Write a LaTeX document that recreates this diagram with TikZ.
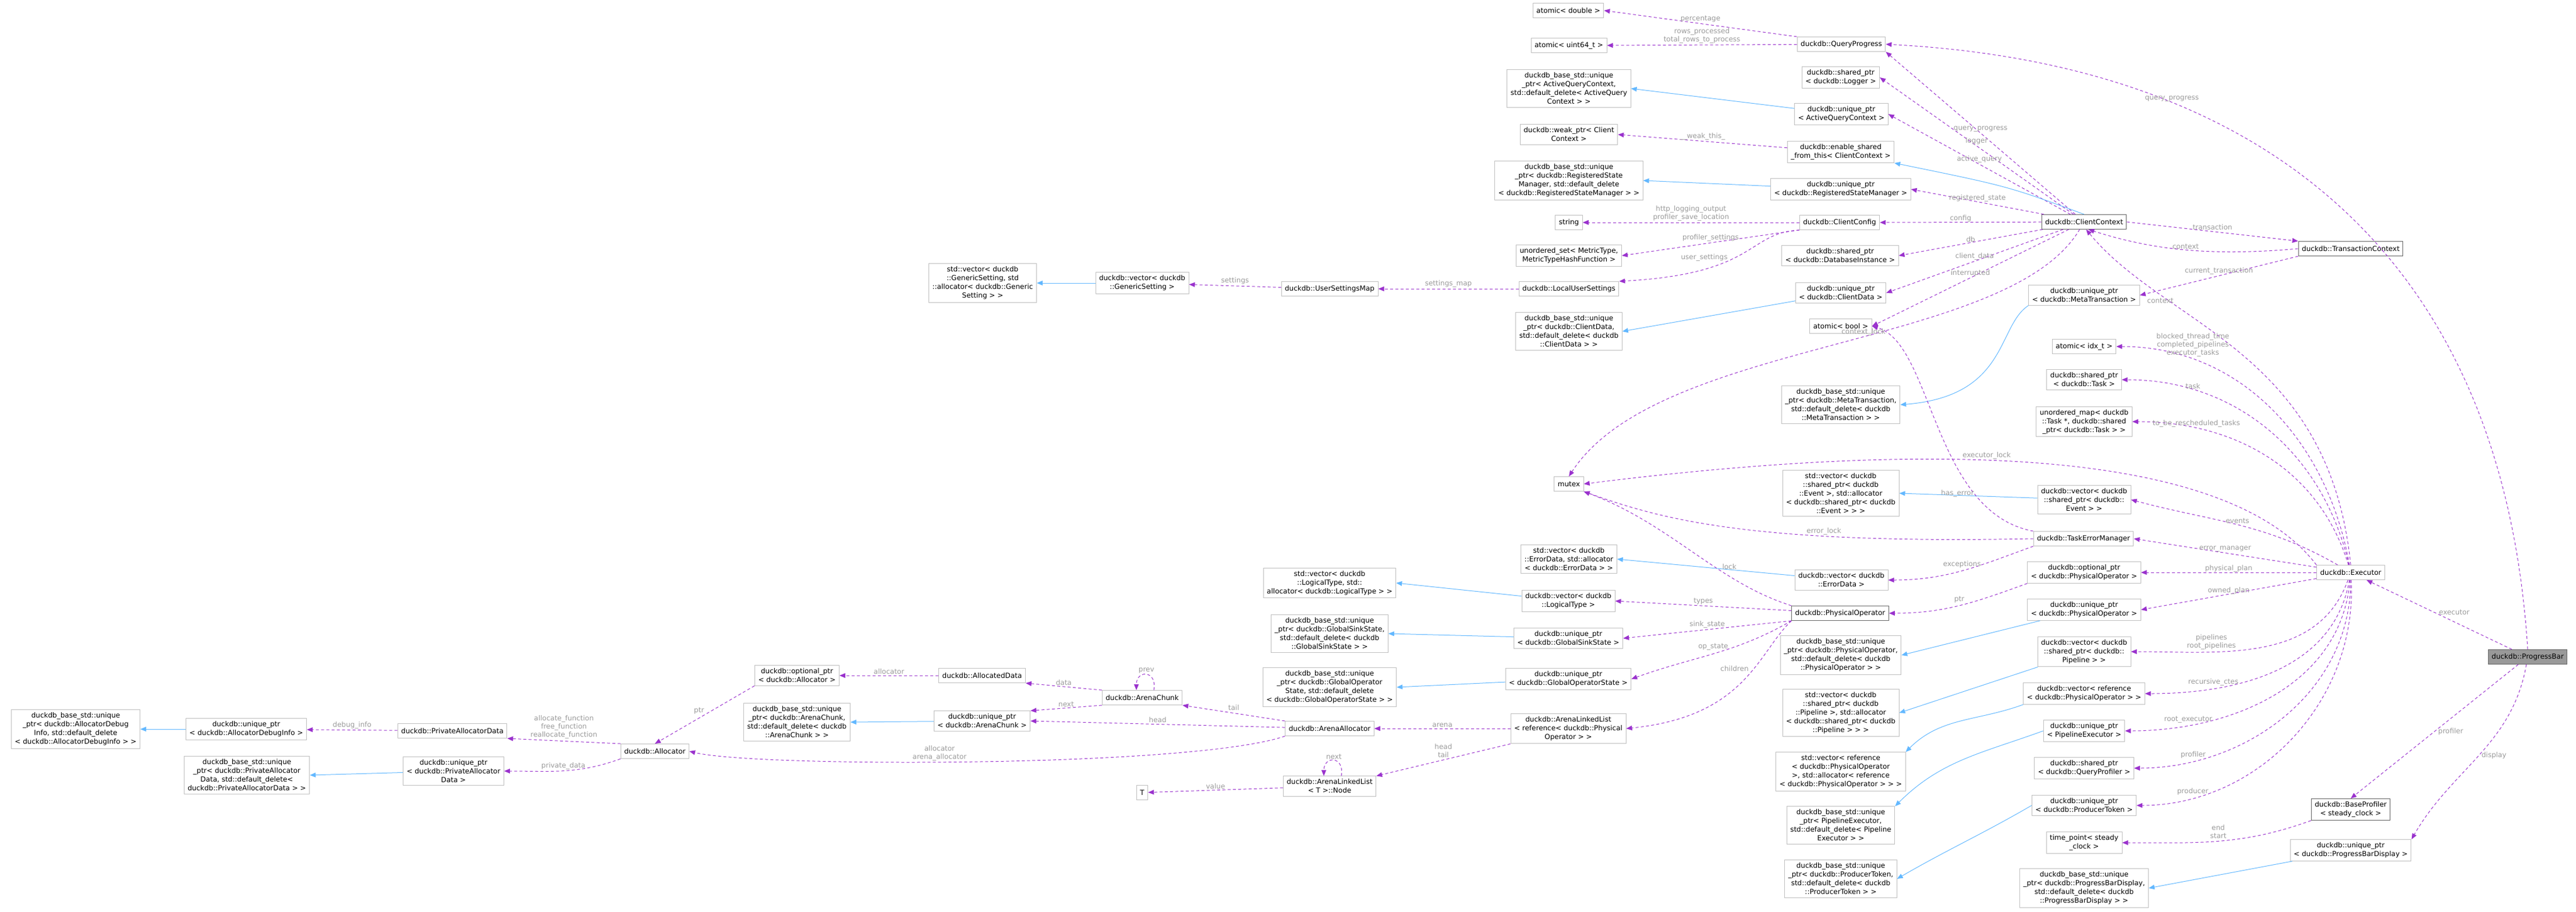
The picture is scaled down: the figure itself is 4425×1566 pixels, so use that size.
\documentclass[tikz,border=0pt]{standalone}
\usepackage{fontspec}
\setmainfont{DejaVu Sans}
\usepackage{tikz}
\usetikzlibrary{positioning,arrows.meta}
\definecolor{memline}{HTML}{9A32CD}
\definecolor{inhline}{HTML}{63B8FF}
\definecolor{boxline}{HTML}{BFBFBF}
\definecolor{darkline}{HTML}{666666}
\definecolor{lblgray}{HTML}{9A9A9A}

\begin{document}
\begin{tikzpicture}[x=1pt,y=-1pt,
    box/.style={rectangle,draw=boxline,line width=1pt,fill=white,align=center,
      font=\fontsize{12}{15}\selectfont,inner xsep=6pt,inner ysep=5pt,minimum height=25pt},
    main/.style={box,draw=darkline},
    mem/.style={-{Triangle[length=10pt,width=8pt]},memline,line width=1pt,dash pattern=on 5pt off 4pt},
    inh/.style={-{Triangle[length=10pt,width=8pt]},inhline,line width=1pt},
    lbl/.style={text=lblgray,font=\fontsize{12}{14}\selectfont,align=center,inner sep=2pt}]
    \useasboundingbox (0,0) rectangle (4425,1566);

    % progress bar and its executor
    \node[main,fill=black!40] (pb) at (4342,1128) {duckdb::ProgressBar};
    \node[box] (ex) at (4038,983) {duckdb::Executor};
    \node[main] (bp) at (4038,1390) {duckdb::BaseProfiler\\< steady\_clock >};
    \node[box] (upbd) at (4038,1460) {duckdb::unique\_ptr\\< duckdb::ProgressBarDisplay >};
    \node[main] (tc) at (4038,427) {duckdb::TransactionContext};

    % column next to the executor
    \node[main] (cc) at (3580,381) {duckdb::ClientContext};
    \node[box] (umt) at (3580,507) {duckdb::unique\_ptr\\< duckdb::MetaTransaction >};
    \node[box] (aidx) at (3580,595) {atomic< idx\_t >};
    \node[box] (stask) at (3580,652) {duckdb::shared\_ptr\\< duckdb::Task >};
    \node[box] (umtask) at (3580,724) {unordered\_map< duckdb\\::Task *, duckdb::shared\\\_ptr< duckdb::Task > >};
    \node[box] (vev) at (3580,858) {duckdb::vector< duckdb\\::shared\_ptr< duckdb::\\Event > >};
    \node[box] (tem) at (3579,925) {duckdb::TaskErrorManager};
    \node[box] (opo) at (3580,983) {duckdb::optional\_ptr\\< duckdb::PhysicalOperator >};
    \node[box] (upo) at (3580,1047) {duckdb::unique\_ptr\\< duckdb::PhysicalOperator >};
    \node[box] (vpl) at (3580,1119) {duckdb::vector< duckdb\\::shared\_ptr< duckdb::\\Pipeline > >};
    \node[box] (vref) at (3580,1191) {duckdb::vector< reference\\< duckdb::PhysicalOperator > >};
    \node[box] (upe) at (3580,1255) {duckdb::unique\_ptr\\< PipelineExecutor >};
    \node[box] (sqp) at (3580,1319) {duckdb::shared\_ptr\\< duckdb::QueryProfiler >};
    \node[box] (upt) at (3580,1383) {duckdb::unique\_ptr\\< duckdb::ProducerToken >};
    \node[box] (tp) at (3580,1447) {time\_point< steady\\\_clock >};
    \node[box] (dbpbd) at (3580,1525) {duckdb\_base\_std::unique\\\_ptr< duckdb::ProgressBarDisplay,\\std::default\_delete< duckdb\\::ProgressBarDisplay > >};

    % column of the client context members
    \node[box] (qp) at (3163,76) {duckdb::QueryProgress};
    \node[box] (lg) at (3162,133) {duckdb::shared\_ptr\\< duckdb::Logger >};
    \node[box] (uaq) at (3163,196) {duckdb::unique\_ptr\\< ActiveQueryContext >};
    \node[box] (esft) at (3162,261) {duckdb::enable\_shared\\\_from\_this< ClientContext >};
    \node[box] (urs) at (3162,325) {duckdb::unique\_ptr\\< duckdb::RegisteredStateManager >};
    \node[box] (ccfg) at (3160,382) {duckdb::ClientConfig};
    \node[box] (sdb) at (3161,439) {duckdb::shared\_ptr\\< duckdb::DatabaseInstance >};
    \node[box] (ucd) at (3162,503) {duckdb::unique\_ptr\\< duckdb::ClientData >};
    \node[box] (abool) at (3162,560) {atomic< bool >};
    \node[box] (dbmt) at (3162,695) {duckdb\_base\_std::unique\\\_ptr< duckdb::MetaTransaction,\\std::default\_delete< duckdb\\::MetaTransaction > >};
    \node[box] (sve) at (3162,847) {std::vector< duckdb\\::shared\_ptr< duckdb\\::Event >, std::allocator\\< duckdb::shared\_ptr< duckdb\\::Event > > >};
    \node[box] (ved) at (3163,996) {duckdb::vector< duckdb\\::ErrorData >};
    \node[main] (po) at (3161,1053) {duckdb::PhysicalOperator};
    \node[box] (dbpo) at (3162,1125) {duckdb\_base\_std::unique\\\_ptr< duckdb::PhysicalOperator,\\std::default\_delete< duckdb\\::PhysicalOperator > >};
    \node[box] (svp) at (3162,1224) {std::vector< duckdb\\::shared\_ptr< duckdb\\::Pipeline >, std::allocator\\< duckdb::shared\_ptr< duckdb\\::Pipeline > > >};
    \node[box] (svr) at (3162,1325) {std::vector< reference\\< duckdb::PhysicalOperator\\>, std::allocator< reference\\< duckdb::PhysicalOperator > > >};
    \node[box] (dbpe) at (3162,1417) {duckdb\_base\_std::unique\\\_ptr< PipelineExecutor,\\std::default\_delete< Pipeline\\Executor > >};
    \node[box] (dbpt) at (3162,1509) {duckdb\_base\_std::unique\\\_ptr< duckdb::ProducerToken,\\std::default\_delete< duckdb\\::ProducerToken > >};

    % middle column
    \node[box] (ad) at (2694,18) {atomic< double >};
    \node[box] (au) at (2695,78) {atomic< uint64\_t >};
    \node[box] (dbaq) at (2695,152) {duckdb\_base\_std::unique\\\_ptr< ActiveQueryContext,\\std::default\_delete< ActiveQuery\\Context > >};
    \node[box] (wp) at (2695,231) {duckdb::weak\_ptr< Client\\Context >};
    \node[box] (dbrs) at (2695,310) {duckdb\_base\_std::unique\\\_ptr< duckdb::RegisteredState\\Manager, std::default\_delete\\< duckdb::RegisteredStateManager > >};
    \node[box] (str) at (2695,382) {string};
    \node[box] (us) at (2695,439) {unordered\_set< MetricType,\\MetricTypeHashFunction >};
    \node[box] (lus) at (2695,496) {duckdb::LocalUserSettings};
    \node[box] (dbcd) at (2695,569) {duckdb\_base\_std::unique\\\_ptr< duckdb::ClientData,\\std::default\_delete< duckdb\\::ClientData > >};
    \node[box] (mtx) at (2695,831) {mutex};
    \node[box] (sed) at (2695,960) {std::vector< duckdb\\::ErrorData, std::allocator\\< duckdb::ErrorData > >};
    \node[box] (vlt) at (2694,1032) {duckdb::vector< duckdb\\::LogicalType >};
    \node[box] (ugss) at (2694,1096) {duckdb::unique\_ptr\\< duckdb::GlobalSinkState >};
    \node[box] (ugos) at (2694,1166) {duckdb::unique\_ptr\\< duckdb::GlobalOperatorState >};
    \node[box] (all) at (2694,1251) {duckdb::ArenaLinkedList\\< reference< duckdb::Physical\\Operator > >};

    % left columns
    \node[box] (usm) at (2284,496) {duckdb::UserSettingsMap};
    \node[box] (slt) at (2284,1001) {std::vector< duckdb\\::LogicalType, std::\\allocator< duckdb::LogicalType > >};
    \node[box] (dbgss) at (2284,1088) {duckdb\_base\_std::unique\\\_ptr< duckdb::GlobalSinkState,\\std::default\_delete< duckdb\\::GlobalSinkState > >};
    \node[box] (dbgos) at (2284,1180) {duckdb\_base\_std::unique\\\_ptr< duckdb::GlobalOperator\\State, std::default\_delete\\< duckdb::GlobalOperatorState > >};
    \node[box] (aa) at (2284,1251) {duckdb::ArenaAllocator};
    \node[box] (nd) at (2284,1350) {duckdb::ArenaLinkedList\\< T >::Node};
    \node[box] (vgs) at (1962,486) {duckdb::vector< duckdb\\::GenericSetting >};
    \node[box] (ac) at (1962,1198) {duckdb::ArenaChunk};
    \node[box] (T) at (1962,1361) {T};
    \node[box] (sgs) at (1688,486) {std::vector< duckdb\\::GenericSetting, std\\::allocator< duckdb::Generic\\Setting > >};
    \node[box] (adat) at (1687,1160) {duckdb::AllocatedData};
    \node[box] (uac) at (1687,1238) {duckdb::unique\_ptr\\< duckdb::ArenaChunk >};
    \node[box] (opa) at (1369,1160) {duckdb::optional\_ptr\\< duckdb::Allocator >};
    \node[box] (dbac) at (1369,1240) {duckdb\_base\_std::unique\\\_ptr< duckdb::ArenaChunk,\\std::default\_delete< duckdb\\::ArenaChunk > >};
    \node[box] (alloc) at (1125,1290) {duckdb::Allocator};
    \node[box] (pad) at (777,1255) {duckdb::PrivateAllocatorData};
    \node[box] (upad) at (779,1324) {duckdb::unique\_ptr\\< duckdb::PrivateAllocator\\Data >};
    \node[box] (uadi) at (423,1252) {duckdb::unique\_ptr\\< duckdb::AllocatorDebugInfo >};
    \node[box] (dbpad) at (424,1331) {duckdb\_base\_std::unique\\\_ptr< duckdb::PrivateAllocator\\Data, std::default\_delete<\\duckdb::PrivateAllocatorData > >};
    \node[box] (dbadi) at (130,1252) {duckdb\_base\_std::unique\\\_ptr< duckdb::AllocatorDebug\\Info, std::default\_delete\\< duckdb::AllocatorDebugInfo > >};

    % progress bar members
    \draw[mem] (pb.north) .. controls (4300,450) and (3900,110) .. node[lbl,pos=.72,above]{query\_progress} (qp.east);
    \draw[mem] (pb) -- node[lbl,above right=-4pt]{executor} (ex);
    \draw[mem] (pb) -- node[lbl,right=4pt]{profiler} (bp.north);
    \draw[mem] (pb) to[out=-100,in=60] node[lbl,right=2pt]{display} (upbd.north east);
    \draw[mem] (bp.south west) to[out=200,in=0] node[lbl,above=2pt]{end\\start} (tp.east);
    \draw[inh] (upbd) -- (dbpbd.east);

    % transaction context
    \draw[mem] (cc.east) -- node[lbl,above]{transaction} (tc.north west);
    \draw[mem] (tc.west) .. controls (3800,440) and (3700,430) .. node[lbl,above=-1pt]{context} (cc.-60);
    \draw[mem] (tc.south west) -- node[lbl,above]{current\_transaction} (umt.east);
    \draw[inh] (umt.south west) .. controls (3430,560) and (3450,680) .. (dbmt.east);

    % executor members
    \draw[mem] (ex.north) .. controls (4000,600) and (3720,560) .. node[lbl,pos=.7,above left=-2pt]{context} (cc.-75);
    \draw[mem] (ex) to[out=100,in=0] node[lbl,pos=.78,above=3pt]{blocked\_thread\_time\\completed\_pipelines\\executor\_tasks} (aidx.east);
    \draw[mem] (ex) to[out=103,in=0] node[lbl,pos=.78,above]{task} (stask.east);
    \draw[mem] (ex) to[out=107,in=0] node[lbl,pos=.78,above]{to\_be\_rescheduled\_tasks} (umtask.east);
    \draw[mem] (ex.north west) .. controls (3850,800) and (3450,740) .. node[lbl,pos=.62,above]{executor\_lock} (mtx.east);
    \draw[mem] (ex) to[out=150,in=-15] node[lbl,above]{events} (vev.east);
    \draw[mem] (ex) -- node[lbl,above]{error\_manager} (tem.east);
    \draw[mem] (ex) -- node[lbl,above=-2pt]{physical\_plan} (opo.east);
    \draw[mem] (ex) -- node[lbl,above=-3pt]{owned\_plan} (upo.east);
    \draw[mem] (ex) to[out=-110,in=0] node[lbl,pos=.7,above=2pt]{pipelines\\root\_pipelines} (vpl.east);
    \draw[mem] (ex) to[out=-100,in=0] node[lbl,pos=.75,above=2pt]{recursive\_ctes} (vref.east);
    \draw[mem] (ex) to[out=-95,in=0] node[lbl,pos=.8,above=2pt]{root\_executor} (upe.east);
    \draw[mem] (ex) to[out=-90,in=0] node[lbl,pos=.82,above=2pt]{profiler} (sqp.east);
    \draw[mem] (ex) to[out=-87,in=0] node[lbl,pos=.84,above=2pt]{producer} (upt.east);

    % inheritance from the executor column
    \draw[inh] (vev) -- (sve.east);
    \draw[inh] (upo) -- (dbpo.east);
    \draw[inh] (vpl) -- (svp.east);
    \draw[inh] (vref.south west) to[out=200,in=45] (svr.north east);
    \draw[inh] (upe.west) to[out=200,in=45] (dbpe.north east);
    \draw[inh] (upt.west) to[out=210,in=30] (dbpt.east);

    % task error manager
    \draw[mem] (tem.north west) .. controls (3320,880) and (3320,590) .. node[lbl,pos=.25,left=-2pt]{has\_error} (abool.east);
    \draw[mem] (tem.west) .. controls (3000,935) and (2850,890) .. node[lbl,pos=.3,above]{error\_lock} (mtx.south east);
    \draw[mem] (tem.south west) to[out=200,in=0] node[lbl,above=2pt]{exceptions} (ved.east);
    \draw[inh] (ved) -- (sed.east);

    % client context members
    \draw[mem] (cc) -- node[lbl,above]{query\_progress} (qp.south east);
    \draw[mem] (cc) -- node[lbl,above]{logger} (lg.east);
    \draw[mem] (cc) -- node[lbl,above]{active\_query} (uaq.east);
    \draw[inh] (cc.north) .. controls (3450,320) .. (esft.south east);
    \draw[mem] (cc) -- node[lbl,above=-2pt]{registered\_state} (urs.east);
    \draw[mem] (cc) -- node[lbl,above=-2pt]{config} (ccfg.east);
    \draw[mem] (cc) -- node[lbl,above=-2pt]{db} (sdb.east);
    \draw[mem] (cc) -- node[lbl,above]{client\_data} (ucd.east);
    \draw[mem] (cc) -- node[lbl,above]{interrupted} (abool.east);
    \draw[mem] (cc) .. controls (3450,600) and (2850,580) .. node[lbl,pos=.45,above]{context\_lock} (mtx.north);

    % middle column members
    \draw[mem] (qp.north west) -- node[lbl,above]{percentage} (ad.east);
    \draw[mem] (qp) -- node[lbl,above]{rows\_processed\\total\_rows\_to\_process} (au.east);
    \draw[inh] (uaq) -- (dbaq.east);
    \draw[mem] (esft) -- node[lbl,above]{\_\_weak\_this\_} (wp.east);
    \draw[inh] (urs) -- (dbrs.east);
    \draw[mem] (ccfg) -- node[lbl,above]{http\_logging\_output\\profiler\_save\_location} (str.east);
    \draw[mem] (ccfg.south west) -- node[lbl,above]{profiler\_settings} (us.east);
    \draw[mem] (ccfg.south west) .. controls (3000,400) and (3020,470) .. node[lbl,pos=.55,left=10pt]{user\_settings} (lus.north east);
    \draw[mem] (lus) -- node[lbl,above]{settings\_map} (usm);
    \draw[mem] (usm) -- node[lbl,above]{settings} (vgs);
    \draw[inh] (vgs) -- (sgs.east);
    \draw[inh] (ucd) -- (dbcd.east);

    % physical operator
    \draw[mem] (opo.south west) to[out=200,in=0] node[lbl,above=2pt]{ptr} (po.east);
    \draw[mem] (po.north west) .. controls (2950,1000) and (2870,900) .. node[lbl,pos=.35,above right]{lock} (mtx.south east);
    \draw[mem] (po) -- node[lbl,above]{types} (vlt.east);
    \draw[inh] (vlt) -- (slt.east);
    \draw[mem] (po.south west) -- node[lbl,above]{sink\_state} (ugss.east);
    \draw[inh] (ugss) -- (dbgss.east);
    \draw[mem] (po.south west) to[out=210,in=20] node[lbl,above=4pt]{op\_state} (ugos.east);
    \draw[inh] (ugos) -- (dbgos.east);
    \draw[mem] (po.south west) .. controls (3020,1120) and (3000,1230) .. node[lbl,pos=.4,left=6pt]{children} (all.east);

    % arena list and allocator
    \draw[mem] (all) -- node[lbl,above]{arena} (aa);
    \draw[mem] (all.south west) -- node[lbl,above=2pt]{head\\tail} (nd.north east);
    \draw[mem] (nd.north) ++(20,0) to[out=80,in=90,looseness=3] node[lbl,above]{next} ([xshift=-10pt]nd.north);
    \draw[mem] (nd) -- node[lbl,above]{value} (T);
    \draw[mem] (aa.north west) -- node[lbl,above=2pt]{tail} (ac.south east);
    \draw[mem] (aa) -- node[lbl,above]{head} (uac.east);
    \draw[mem] (aa.south west) .. controls (2050,1318) and (1300,1318) .. node[lbl,pos=.55,above]{allocator\\arena\_allocator} (alloc.east);
    \draw[mem] (ac.north) ++(20,0) to[out=80,in=90,looseness=3] node[lbl,above]{prev} ([xshift=-10pt]ac.north);
    \draw[mem] (ac.north west) -- node[lbl,above]{data} (adat.south east);
    \draw[mem] (ac.south west) -- node[lbl,above]{next} (uac.north east);
    \draw[inh] (uac) -- (dbac.east);
    \draw[mem] (adat) -- node[lbl,above]{allocator} (opa);
    \draw[mem] (opa.south west) -- node[lbl,above left=-2pt]{ptr} (alloc.north);
    \draw[mem] (alloc.north west) -- node[lbl,above=2pt]{allocate\_function\\free\_function\\reallocate\_function} (pad.south east);
    \draw[mem] (alloc.south west) to[out=200,in=0] node[lbl,above]{private\_data} (upad.east);
    \draw[mem] (pad) -- node[lbl,above]{debug\_info} (uadi);
    \draw[inh] (uadi) -- (dbadi);
    \draw[inh] (upad) -- (dbpad.east);
\end{tikzpicture}
\end{document}
